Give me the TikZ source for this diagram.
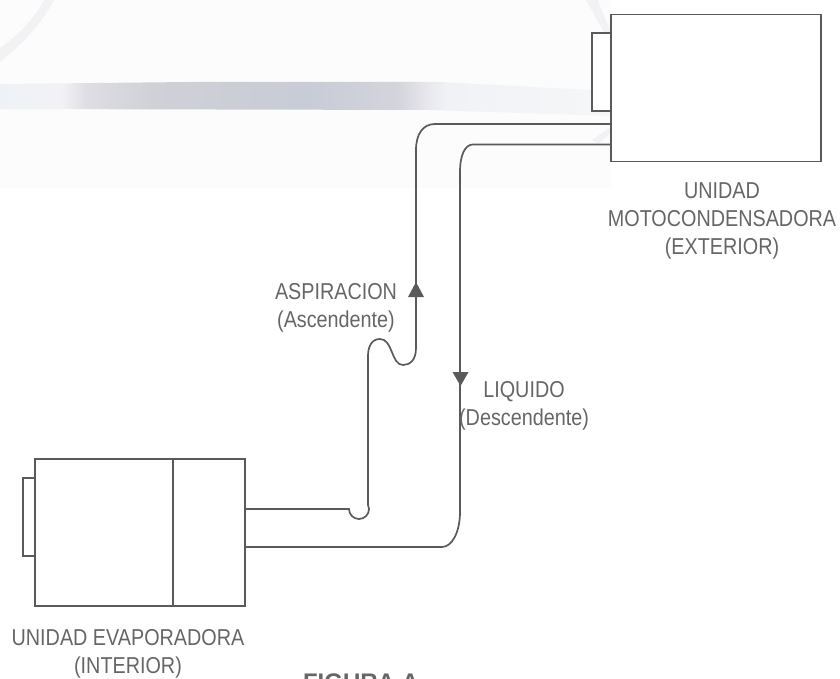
\documentclass[tikz,border=0pt]{standalone}
\usepackage{fontspec}
\setmainfont{Liberation Sans}
\newfontfamily\narrowsans[FakeStretch=0.86]{Liberation Sans}
\definecolor{ln}{HTML}{5A5A5A}
\definecolor{tx}{HTML}{666666}
\definecolor{wash}{HTML}{FCFCFC}
\definecolor{swoosh}{HTML}{F2F2F5}
\pgfdeclarehorizontalshading{bandgrey}{100bp}{
  rgb(0bp)=(0.933,0.949,0.965);
  rgb(25bp)=(0.933,0.949,0.965);
  rgb(30bp)=(0.949,0.949,0.965);
  rgb(32bp)=(0.870,0.870,0.894);
  rgb(37.5bp)=(0.816,0.816,0.843);
  rgb(50bp)=(0.784,0.800,0.839);
  rgb(57.5bp)=(0.831,0.831,0.863);
  rgb(60bp)=(0.910,0.910,0.933);
  rgb(61.5bp)=(0.941,0.949,0.965);
  rgb(73.5bp)=(0.957,0.965,0.969);
  rgb(75bp)=(0.973,0.973,0.973);
  rgb(100bp)=(0.973,0.973,0.973)}
\tikzset{
  unitbox/.style={draw=ln,line width=1.8pt,fill=white,inner sep=0pt,minimum width=#1},
  pipe/.style={draw=ln,line width=1.7pt},
  lab/.style={text=tx,align=center,font=\narrowsans\fontsize{23}{28}\selectfont,inner sep=0pt},
  tipu/.style={fill=ln,draw=none}
}
\begin{document}
\begin{tikzpicture}[x=1pt,y=-1pt]
\useasboundingbox (0,0) rectangle (840,679);
% background wash
\fill[wash] (0,0) rectangle (611,188);
\fill[swoosh] (0,0) -- (54,0) .. controls (40,26) and (22,44) .. (0,62) -- cycle;
\fill[wash] (0,0) -- (44,0) .. controls (32,22) and (16,36) .. (0,48) -- cycle;
\fill[swoosh] (586,0) -- (598,0) .. controls (601,10) and (606,20) .. (611,32) -- (604,32) .. controls (598,22) and (592,10) .. (586,0) -- cycle;
\path[shading=bandgrey] (0,84) -- (190,82) -- (440,82) -- (590,90) -- (612,98) -- (612,116) -- (430,110) -- (0,109) -- cycle;
\fill[swoosh] (592,140) -- (612,126) -- (612,132) -- (598,144) -- cycle;
% side boxes first
\node[unitbox=19pt,minimum height=78pt] (condf) at (601.5,72) {};
\node[unitbox=210pt,minimum height=147pt] (cond) at (716,88) {};
\node[unitbox=12pt,minimum height=78pt] (evapf) at (29,517) {};
\node[unitbox=138pt,minimum height=147pt] (evapa) at (104,532.5) {};
\node[unitbox=72pt,minimum height=147pt] (evapb) at (209,532.5) {};
% named ends
\coordinate (asp1) at (611,124);
\coordinate (liq1) at (611,144.5);
\coordinate (asp2) at (245,509);
\coordinate (liq2) at (245,547);
\draw[pipe] (asp1) -- (435,124) .. controls (423,124) and (416,134) .. (416,150)
  -- (416,348) .. controls (416,360) and (410,365) .. (403,365)
  .. controls (391,365) and (393,339) .. (380,339)
  .. controls (372,339) and (368,346) .. (368,356)
  -- (368,505) -- (369,509) arc[start angle=0,end angle=180,radius=10] -- (asp2);
\draw[pipe] (liq1) -- (473,144.5) .. controls (465,144.5) and (460,155) .. (460,172)
  -- (460,512) .. controls (460,532) and (452,547) .. (442,547) -- (liq2);
\fill[tipu] (416,282) -- (424,297) -- (408,297) -- cycle;
\fill[tipu] (460.5,386) -- (468.5,372) -- (452.5,372) -- cycle;
% labels
\node[lab] (t1) at (722,221) {UNIDAD\\MOTOCONDENSADORA\\(EXTERIOR)};
\node[lab] (t2) at (336,308) {ASPIRACION\\(Ascendente)};
\node[lab] (t3) at (524,406) {LIQUIDO\\(Descendente)};
\node[lab] (t4) at (128,654) {UNIDAD EVAPORADORA\\(INTERIOR)};
\node[text=tx,font=\fontsize{24}{26}\selectfont\bfseries,inner sep=0pt,anchor=base] (t5) at (361,690) {FIGURA A};
\end{tikzpicture}
\end{document}
